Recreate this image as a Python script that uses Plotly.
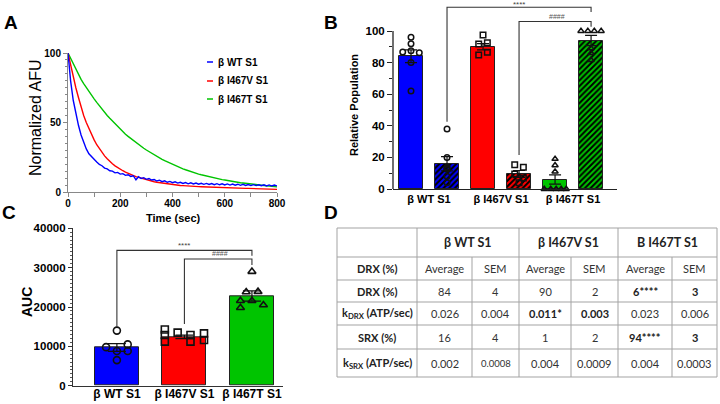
import plotly.graph_objects as go

W, H = 720, 404
FONT = "Liberation Sans, Arial, sans-serif"
TFONT = "Lato, Open Sans, sans-serif"

# ---------------- Panel A data (normalized fluorescence decay) ----------------
time_sec = [0, 10, 20, 30, 40, 50, 60, 70, 80, 90, 100, 110, 120, 130, 140, 150, 160, 170, 180, 190,
            200, 210, 220, 230, 240, 250, 260, 270, 280, 290, 300, 310, 320, 330, 340, 350, 360, 370, 380, 390,
            400, 410, 420, 430, 440, 450, 460, 470, 480, 490, 500, 510, 520, 530, 540, 550, 560, 570, 580, 590,
            600, 610, 620, 630, 640, 650, 660, 670, 680, 690, 700, 710, 720, 730, 740, 750, 760, 770, 780, 790, 800]
wt_afu = [100, 80, 66, 56, 48, 41, 35.5, 31, 27.5, 25.3, 23, 21.6, 19.8, 18.9, 17.2, 16.6, 15.3, 15.0, 13.8, 14.1,
          12.9, 13.2, 12.0, 12.4, 11.2, 11.7, 8.8, 11.0, 9.7, 10.3, 9.1, 9.7, 8.6, 9.0, 7.9, 8.5, 7.4, 8.0, 7.0, 7.6,
          6.7, 7.3, 6.4, 7.0, 6.2, 6.8, 5.9, 6.6, 5.8, 6.4, 5.6, 6.3, 5.5, 6.2, 5.4, 6.1, 5.3, 6.0, 5.2, 5.9,
          5.1, 5.8, 5.0, 5.7, 4.9, 5.6, 4.8, 5.5, 4.7, 5.4, 4.6, 5.3, 4.6, 5.2, 4.5, 5.2, 4.4, 5.1, 4.3, 5.0, 4.4]
i467v_afu = [100, 91, 83, 75, 68, 61, 55, 50, 45.5, 41, 37.5, 34, 31, 28.5, 26, 24, 22, 20.3, 18.8, 17.5,
             16.3, 15.3, 14.3, 13.4, 12.6, 11.8, 11.1, 10.5, 9.9, 9.3, 8.8, 8.3, 7.8, 7.4, 7.0, 6.7, 6.4, 6.1, 5.8, 5.5,
             5.3, 5.1, 4.9, 4.7, 4.6, 4.4, 4.3, 4.2, 4.1, 4.0, 3.9, 3.8, 3.7, 3.6, 3.5, 3.5, 3.4, 3.3, 3.3, 3.2,
             3.1, 3.1, 3.0, 2.9, 2.9, 2.8, 2.8, 2.7, 2.6, 2.6, 2.5, 2.5, 2.4, 2.3, 2.3, 2.2, 2.2, 2.1, 2.0, 2.0, 1.9]
i467t_afu = [100, 96, 92, 88, 84.5, 81, 78, 75, 72, 69.5, 67, 64.5, 62, 59.5, 57, 55, 53, 51, 49, 47,
             45, 43.3, 41.6, 40, 38.5, 37, 35.5, 34.1, 32.8, 31.5, 30.2, 29, 27.8, 26.7, 25.6, 24.5, 23.5, 22.5, 21.6, 20.7,
             19.8, 19.0, 18.2, 17.4, 16.7, 16.0, 15.3, 14.7, 14.1, 13.5, 12.9, 12.4, 11.9, 11.4, 10.9, 10.5, 10.1, 9.7, 9.3, 8.9,
             8.6, 8.2, 7.9, 7.6, 7.3, 7.0, 6.7, 6.5, 6.2, 6.0, 5.7, 5.5, 5.3, 5.1, 4.9, 4.7, 4.5, 4.3, 4.1, 3.9, 3.7]
series_names = ["β WT S1", "β I467V S1", "β I467T S1"]
series_colors = ["#0000FF", "#FF0000", "#00C400"]

# ---------------- Panel B data (relative population DRX / SRX) ----------------
b_group_labels = ["β WT S1", "β I467V S1", "β I467T S1"]
b_positions = [0, 1, 2, 3, 4, 5]
b_means = [84, 16, 90, 9.5, 6, 94]
b_sem = [4, 4.5, 2, 2.2, 2.9, 3.2]
b_colors = ["#0000FF", "#0000FF", "#FF0000", "#FF0000", "#00C400", "#00C400"]
b_hatch = ["", "/", "", "/", "", "/"]
b_symbols = ["circle-open", "circle-open", "square-open", "square-open", "triangle-up-open", "triangle-up-open"]
b_points = [
    [96, 92, 86.7, 87.5, 86.3, 80, 62],
    [4, 8, 13.3, 12.5, 13.7, 20, 38],
    [97.5, 91.8, 92.6, 84.8, 86.5],
    [15.3, 13.7, 9.5, 7.0, 4.0],
    [19, 15, 11, 0, 0, 0, 0, 0],
    [100, 100, 100, 100, 89, 86, 81.6],
]
b_jitter = [
    [0, 0, -0.23, 0, 0.23, 0, 0],
    [0, 0, 0, 0, 0, 0, 0],
    [0, -0.12, 0.12, -0.12, 0.12],
    [-0.12, 0.12, -0.12, 0.12, 0],
    [0, 0, 0, -0.3, -0.12, 0.03, 0.17, 0.31],
    [-0.28, -0.09, 0.09, 0.28, 0, 0, 0],
]

# ---------------- Panel C data (AUC) ----------------
c_labels = ["β WT S1", "β I467V S1", "β I467T S1"]
c_means = [9700, 12400, 22800]
c_sem = [1000, 450, 1300]
c_colors = ["#0000FF", "#FF0000", "#00C400"]
c_symbols = ["circle-open", "square-open", "triangle-up-open"]
c_points = [
    [14000, 9800, 10500, 8800, 8800, 6500],
    [14300, 12900, 11200, 13500, 12900, 11200, 13300, 11600],
    [29000, 23800, 23900, 21600, 21600, 19800, 20500],
]
c_jitter = [
    [0, -0.16, 0.16, 0, 0.16, 0],
    [-0.29, -0.29, -0.29, -0.1, 0.09, 0.09, 0.29, 0.29],
    [0, -0.085, 0.09, -0.17, 0, -0.17, 0.17],
]

# ---------------- Panel D table ----------------
table_groups = ["β WT S1", "β I467V S1", "B I467T S1"]
table_subheader = ["Average", "SEM", "Average", "SEM", "Average", "SEM"]
table_row_labels = ["DRX (%)", "DRX (%)", "k<sub>DRX</sub> (ATP/sec)", "SRX (%)", "k<sub>SRX</sub> (ATP/sec)"]
table_values = [
    ["84", "4", "90", "2", "6****", "3"],
    ["0.026", "0.004", "0.011*", "0.003", "0.023", "0.006"],
    ["16", "4", "1", "2", "94****", "3"],
    ["0.002", "0.0008", "0.004", "0.0009", "0.004", "0.0003"],
]
table_bold = [
    [0, 0, 0, 0, 1, 1],
    [0, 0, 1, 1, 0, 0],
    [0, 0, 0, 0, 1, 1],
    [0, 0, 0, 0, 0, 0],
]


def px(x):
    return x / W


def py(y):
    return 1 - y / H


fig = go.Figure()

# ---- Panel A traces ----
for yv, name, col in [(i467t_afu, series_names[2], series_colors[2]),
                      (i467v_afu, series_names[1], series_colors[1]),
                      (wt_afu, series_names[0], series_colors[0])]:
    fig.add_trace(go.Scatter(x=time_sec, y=yv, mode="lines", name=name,
                             line=dict(color=col, width=1.4), xaxis="x", yaxis="y",
                             showlegend=False))

# ---- Panel B traces (one bar trace per bar so each hatch gets its own colours) ----
for i in range(len(b_positions)):
    marker = dict(color=b_colors[i], line=dict(color="#222", width=1))
    if b_hatch[i]:
        marker["pattern"] = dict(shape=b_hatch[i], fillmode="replace", bgcolor=b_colors[i],
                                 fgcolor="#000000", fgopacity=1, size=4, solidity=0.5)
    fig.add_trace(go.Bar(
        x=[b_positions[i]], y=[b_means[i]], width=0.67, xaxis="x2", yaxis="y2", showlegend=False,
        marker=marker,
        error_y=dict(type="data", array=[b_sem[i]], color="#111", thickness=1.2, width=6),
    ))
for i, pts in enumerate(b_points):
    fig.add_trace(go.Scatter(
        x=[b_positions[i] + j for j in b_jitter[i]], y=pts, mode="markers",
        xaxis="x2", yaxis="y2", showlegend=False, cliponaxis=False,
        marker=dict(symbol=b_symbols[i], color="#111", size=5.5, line=dict(width=1.5)),
    ))

# ---- Panel C traces ----
fig.add_trace(go.Bar(
    x=[0, 1, 2], y=c_means, width=0.65, xaxis="x3", yaxis="y3", showlegend=False,
    marker=dict(color=c_colors, line=dict(color="#222", width=1)),
    error_y=dict(type="data", array=c_sem, color="#111", thickness=1.2, width=9),
))
for i, pts in enumerate(c_points):
    fig.add_trace(go.Scatter(
        x=[i + j for j in c_jitter[i]], y=pts, mode="markers",
        xaxis="x3", yaxis="y3", showlegend=False, cliponaxis=False,
        marker=dict(symbol=c_symbols[i], color="#111", size=7, line=dict(width=1.6)),
    ))

shapes = []
ann = []


def label(x, y, text, size, color="black", bold=False, angle=0, xanchor="center", family=FONT):
    ann.append(dict(x=px(x), y=py(y), xref="paper", yref="paper", text=text, showarrow=False,
                    xanchor=xanchor, yanchor="middle", textangle=angle,
                    font=dict(family=family, size=size, color=color, weight="bold" if bold else "normal")))


# ---- Panel letters ----
for letter, (lx, ly) in zip("ABCD", [(11, 22), (331, 22), (9, 212), (331, 212)]):
    label(lx, ly, letter, 19, bold=True)

# ---- Panel A axis titles and legend ----
label(173, 218, "Time (sec)", 11, bold=True)
label(35, 118, "Normalized AFU", 16, angle=-90)
for name, col, ly in zip(series_names, series_colors, [62, 81, 99]):
    shapes.append(dict(type="line", xref="paper", yref="paper", x0=px(207), x1=px(213), y0=py(ly), y1=py(ly),
                       line=dict(color=col, width=1.5)))
    label(216, ly, name, 10, bold=True, xanchor="left")

# ---- Panel B decorations ----
B_YMAX = 119
label(354, 105, "Relative Population", 11, bold=True, angle=-90)
shapes.append(dict(type="line", xref="x2 domain", yref="y2 domain", x0=0, x1=0, y0=0, y1=100 / B_YMAX,
                   line=dict(color="#222", width=1.3)))
shapes.append(dict(type="path", xref="x2", yref="y2", path="M 1,42.5 L 1,115 L 5,115 L 5,112",
                   line=dict(color="#333", width=1.1)))
shapes.append(dict(type="path", xref="x2", yref="y2", path="M 3,21.5 L 3,106 L 5,106 L 5,102.7",
                   line=dict(color="#333", width=1.1)))
ann.append(dict(x=3.0, y=117, xref="x2", yref="y2", text="****", showarrow=False,
                xanchor="center", yanchor="middle", font=dict(family=FONT, size=8, color="#444")))
ann.append(dict(x=4.06, y=109.5, xref="x2", yref="y2", text="####", showarrow=False,
                xanchor="center", yanchor="middle", font=dict(family=FONT, size=7, color="#555")))

# ---- Panel C decorations ----
label(27, 302, "AUC", 14, bold=True, angle=-90)
shapes.append(dict(type="path", xref="x3", yref="y3", path="M 0,14900 L 0,34400 L 2,34400 L 2,33000",
                   line=dict(color="#333", width=1.1)))
shapes.append(dict(type="path", xref="x3", yref="y3", path="M 1,15700 L 1,32200 L 2,32200 L 2,30700",
                   line=dict(color="#333", width=1.1)))
ann.append(dict(x=1.0, y=35700, xref="x3", yref="y3", text="****", showarrow=False,
                xanchor="center", yanchor="middle", font=dict(family=FONT, size=8, color="#444")))
ann.append(dict(x=1.53, y=33500, xref="x3", yref="y3", text="####", showarrow=False,
                xanchor="center", yanchor="middle", font=dict(family=FONT, size=7, color="#555")))

# ---- Panel D table (drawn with lines + text) ----
row_edges = [228, 257, 280, 302, 325, 349, 377]
col_edges = [337, 417, 472, 519, 571, 618, 672, 717]
GRID = "#a3a3a3"
for yy in row_edges:
    shapes.append(dict(type="line", xref="paper", yref="paper", x0=px(col_edges[0]), x1=px(col_edges[-1]),
                       y0=py(yy), y1=py(yy), line=dict(color=GRID, width=1)))
for ci, xx in enumerate(col_edges):
    top = row_edges[0] if ci in (0, 1, 3, 5, 7) else row_edges[1]
    shapes.append(dict(type="line", xref="paper", yref="paper", x0=px(xx), x1=px(xx),
                       y0=py(top), y1=py(row_edges[-1]), line=dict(color=GRID, width=1)))
TXT = "#333333"
for g, name in enumerate(table_groups):
    cx = (col_edges[1 + 2 * g] + col_edges[3 + 2 * g]) / 2
    cy = (row_edges[0] + row_edges[1]) / 2
    label(cx, cy, name, 12.5, color="#222", bold=True, family=TFONT)
for r, lab in enumerate(table_row_labels):
    cx = (col_edges[0] + col_edges[1]) / 2
    cy = (row_edges[1 + r] + row_edges[2 + r]) / 2
    label(cx, cy, lab, 11, color="#222", bold=True, family=TFONT)
for c, lab in enumerate(table_subheader):
    cx = (col_edges[1 + c] + col_edges[2 + c]) / 2
    cy = (row_edges[1] + row_edges[2]) / 2
    label(cx, cy, lab, 11, color=TXT, family=TFONT)
for r, row in enumerate(table_values):
    for c, val in enumerate(row):
        cx = (col_edges[1 + c] + col_edges[2 + c]) / 2
        cy = (row_edges[2 + r] + row_edges[3 + r]) / 2
        size = 9.5 if val == "0.0008" else 11
        label(cx, cy, val, size, color="#222" if table_bold[r][c] else TXT,
              bold=bool(table_bold[r][c]), family=TFONT)

tick_bold = lambda s: dict(family=FONT, size=s, color="black", weight="bold")
common = dict(showgrid=False, zeroline=False, automargin=False)

fig.update_layout(
    template="none",
    width=W, height=H, autosize=False,
    margin=dict(l=0, r=0, t=0, b=0, pad=0),
    paper_bgcolor="white", plot_bgcolor="white",
    showlegend=False,
    barmode="overlay",
    bargap=0,
    xaxis=dict(domain=[px(68), px(277)], range=[0, 800], anchor="y", tickvals=[0, 200, 400, 600, 800],
               ticks="outside", ticklen=4, tickcolor="#888", showline=True, linecolor="#888", linewidth=1,
               tickfont=tick_bold(10), ticklabelstandoff=-2, **common,
               minor=dict(tickvals=[100, 300, 500, 700], ticks="outside", ticklen=4, tickcolor="#888")),
    yaxis=dict(domain=[py(192), py(53)], range=[0, 100], anchor="x", tickvals=[0, 50, 100],
               ticks="outside", ticklen=4, tickcolor="#888", showline=True, linecolor="#888", linewidth=1,
               tickfont=tick_bold(10), **common,
               minor=dict(dtick=5, ticks="outside", ticklen=2.5, tickcolor="#888")),
    xaxis2=dict(domain=[px(393), px(617)], range=[-0.5, 5.72], anchor="y2", tickvals=[0.5, 2.5, 4.5],
                ticktext=b_group_labels, ticks="", showline=True, linecolor="#222", linewidth=1.3,
                tickfont=tick_bold(11), **common),
    yaxis2=dict(domain=[py(189), py(1)], range=[0, B_YMAX], anchor="x2", tickvals=[0, 20, 40, 60, 80, 100],
                ticks="outside", ticklen=5, tickcolor="#222", showline=False,
                tickfont=tick_bold(11.5), **common,
                minor=dict(tickvals=[10, 30, 50, 70, 90], ticks="outside", ticklen=3, tickcolor="#222")),
    xaxis3=dict(domain=[px(73), px(283)], range=[-0.65, 2.46], anchor="y3", tickvals=[0, 1, 2],
                ticktext=c_labels, ticks="", showline=True, linecolor="#333", linewidth=1.2,
                tickfont=tick_bold(12), ticklabelstandoff=-3, **common),
    yaxis3=dict(domain=[py(385.7), py(228.3)], range=[0, 40000], anchor="x3",
                tickvals=[0, 10000, 20000, 30000, 40000], ticktext=["0", "10000", "20000", "30000", "40000"],
                ticks="outside", ticklen=4, tickcolor="#333", showline=True, linecolor="#333", linewidth=1.2,
                tickfont=tick_bold(11.5), **common,
                minor=dict(dtick=1000, ticks="outside", ticklen=2, tickcolor="#555")),
    shapes=shapes,
    annotations=ann,
)

fig.write_html("out.html", post_script="document.body.style.margin='0';",
               config={"displayModeBar": False})
